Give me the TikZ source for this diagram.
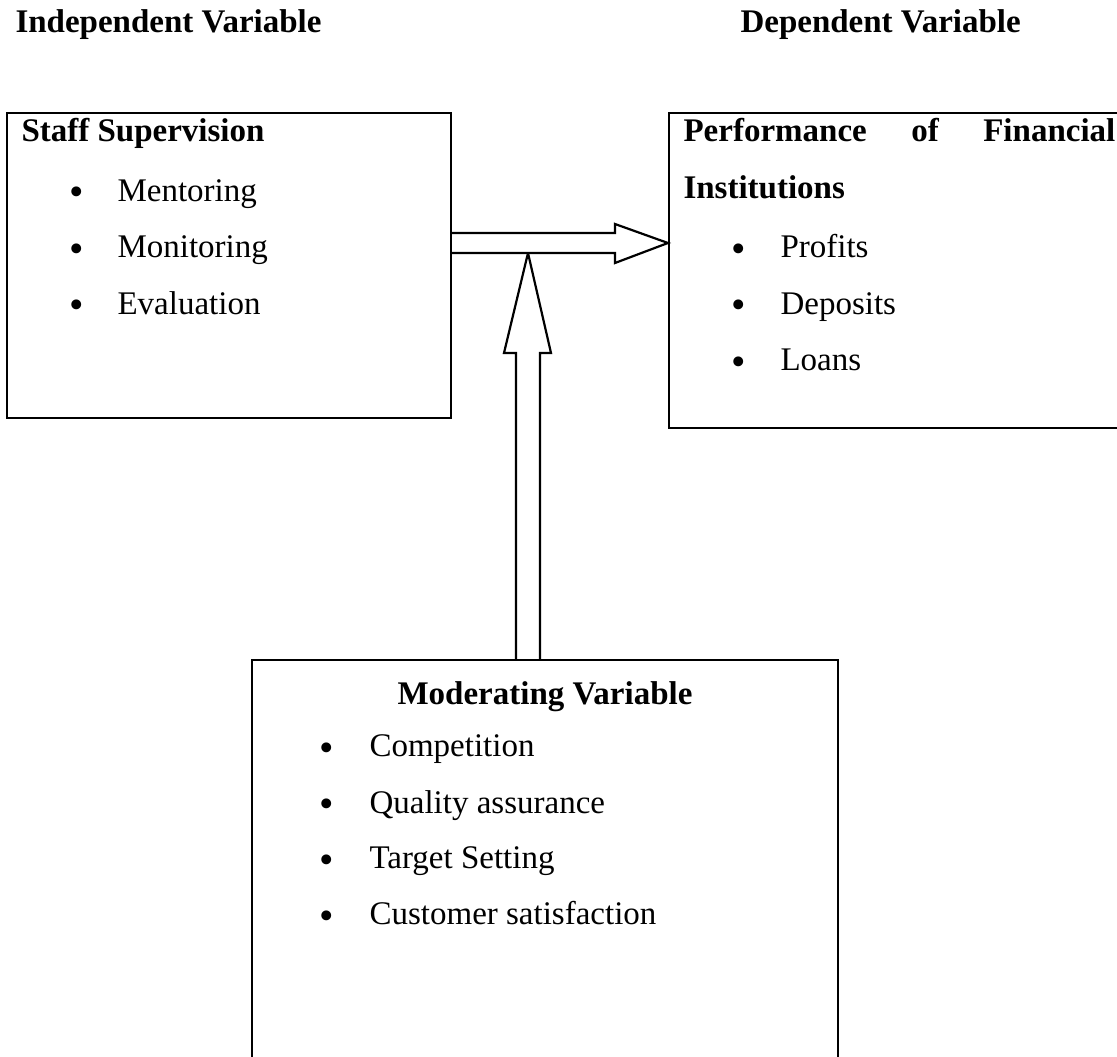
\documentclass[tikz,border=0pt]{standalone}
\usepackage{fontspec}
\setmainfont{Liberation Serif}
\usepackage{tikz}
\usetikzlibrary{calc}
\tikzset{
    varbox/.style={rectangle, draw, line width=0.8pt, inner sep=0pt},
    heading/.style={font=\fontsize{12}{14}\selectfont\bfseries, inner sep=0pt, anchor=base west},
    entry/.style={font=\fontsize{12}{14}\selectfont, inner sep=0pt, anchor=base west},
    dot/.style={font=\fontsize{15}{17}\selectfont, inner sep=0pt, anchor=base, yshift=-1.5pt},
    blockarrow/.style={draw, line width=0.8pt, line join=miter, fill=white}
}

\begin{document}
\begin{tikzpicture}[x=0.3636pt, y=-0.3636pt]
    \useasboundingbox (0,0) rectangle (1117,1057);
    \clip (0,0) rectangle (1117,1057);

    % Labels above the boxes
    \node (IndepLabel) [heading] at (15,33) {Independent Variable};
    \node (DepLabel) [heading] at (740,33) {Dependent Variable};

    % Independent variable
    \node (Staff) [varbox, minimum width=161.4pt, minimum height=110.9pt] at (229,265.5) {};
    \node (StaffHead) [heading] at (21,142) {Staff Supervision};
    \foreach \txt [count=\i] in {Mentoring, Monitoring, Evaluation} {
        \node [dot] at ({77},{145+56.5*\i}) {\textbullet};
        \node [entry] at ({117},{145+56.5*\i}) {\txt};
    }

    % Dependent variable
    \node (Perf) [varbox, minimum width=169.4pt, minimum height=114.5pt] at (902,270.5) {};
    \node (PerfHead) [heading] at (683,142) {\hbox to 157pt{Performance\hfill of\hfill Financial}};
    \node (PerfHeadB) [heading] at (683,199) {Institutions};
    \foreach \txt [count=\i] in {Profits, Deposits, Loans} {
        \node [dot] at ({739},{145+56.5*(\i+1)}) {\textbullet};
        \node [entry] at ({780},{145+56.5*(\i+1)}) {\txt};
    }

    % Moderating variable
    \node (Mod) [varbox, minimum width=213.1pt, minimum height=150.9pt] at (545,867.5) {};
    \node (ModHead) [heading, anchor=base] at (545,705) {Moderating Variable};
    \foreach \txt [count=\i] in {Competition, Quality assurance, Target Setting, Customer satisfaction} {
        \node [dot] at ({327},{757+56*(\i-1)}) {\textbullet};
        \node [entry] at ({369},{757+56*(\i-1)}) {\txt};
    }

    % Block arrows
    \coordinate (Join) at (528,253);
    \draw[blockarrow] (Mod.north -| 516,0) -- (516,353) -- (504,353) -- (Join) -- (551,353) -- (540,353) -- (Mod.north -| 540,0);
    \draw[blockarrow] (Staff.east |- 0,233) -- (615,233) -- (615,224) -- (Perf.west |- 0,243) -- (615,263) -- (615,253) -- (Staff.east |- 0,253);

\end{tikzpicture}
\end{document}
